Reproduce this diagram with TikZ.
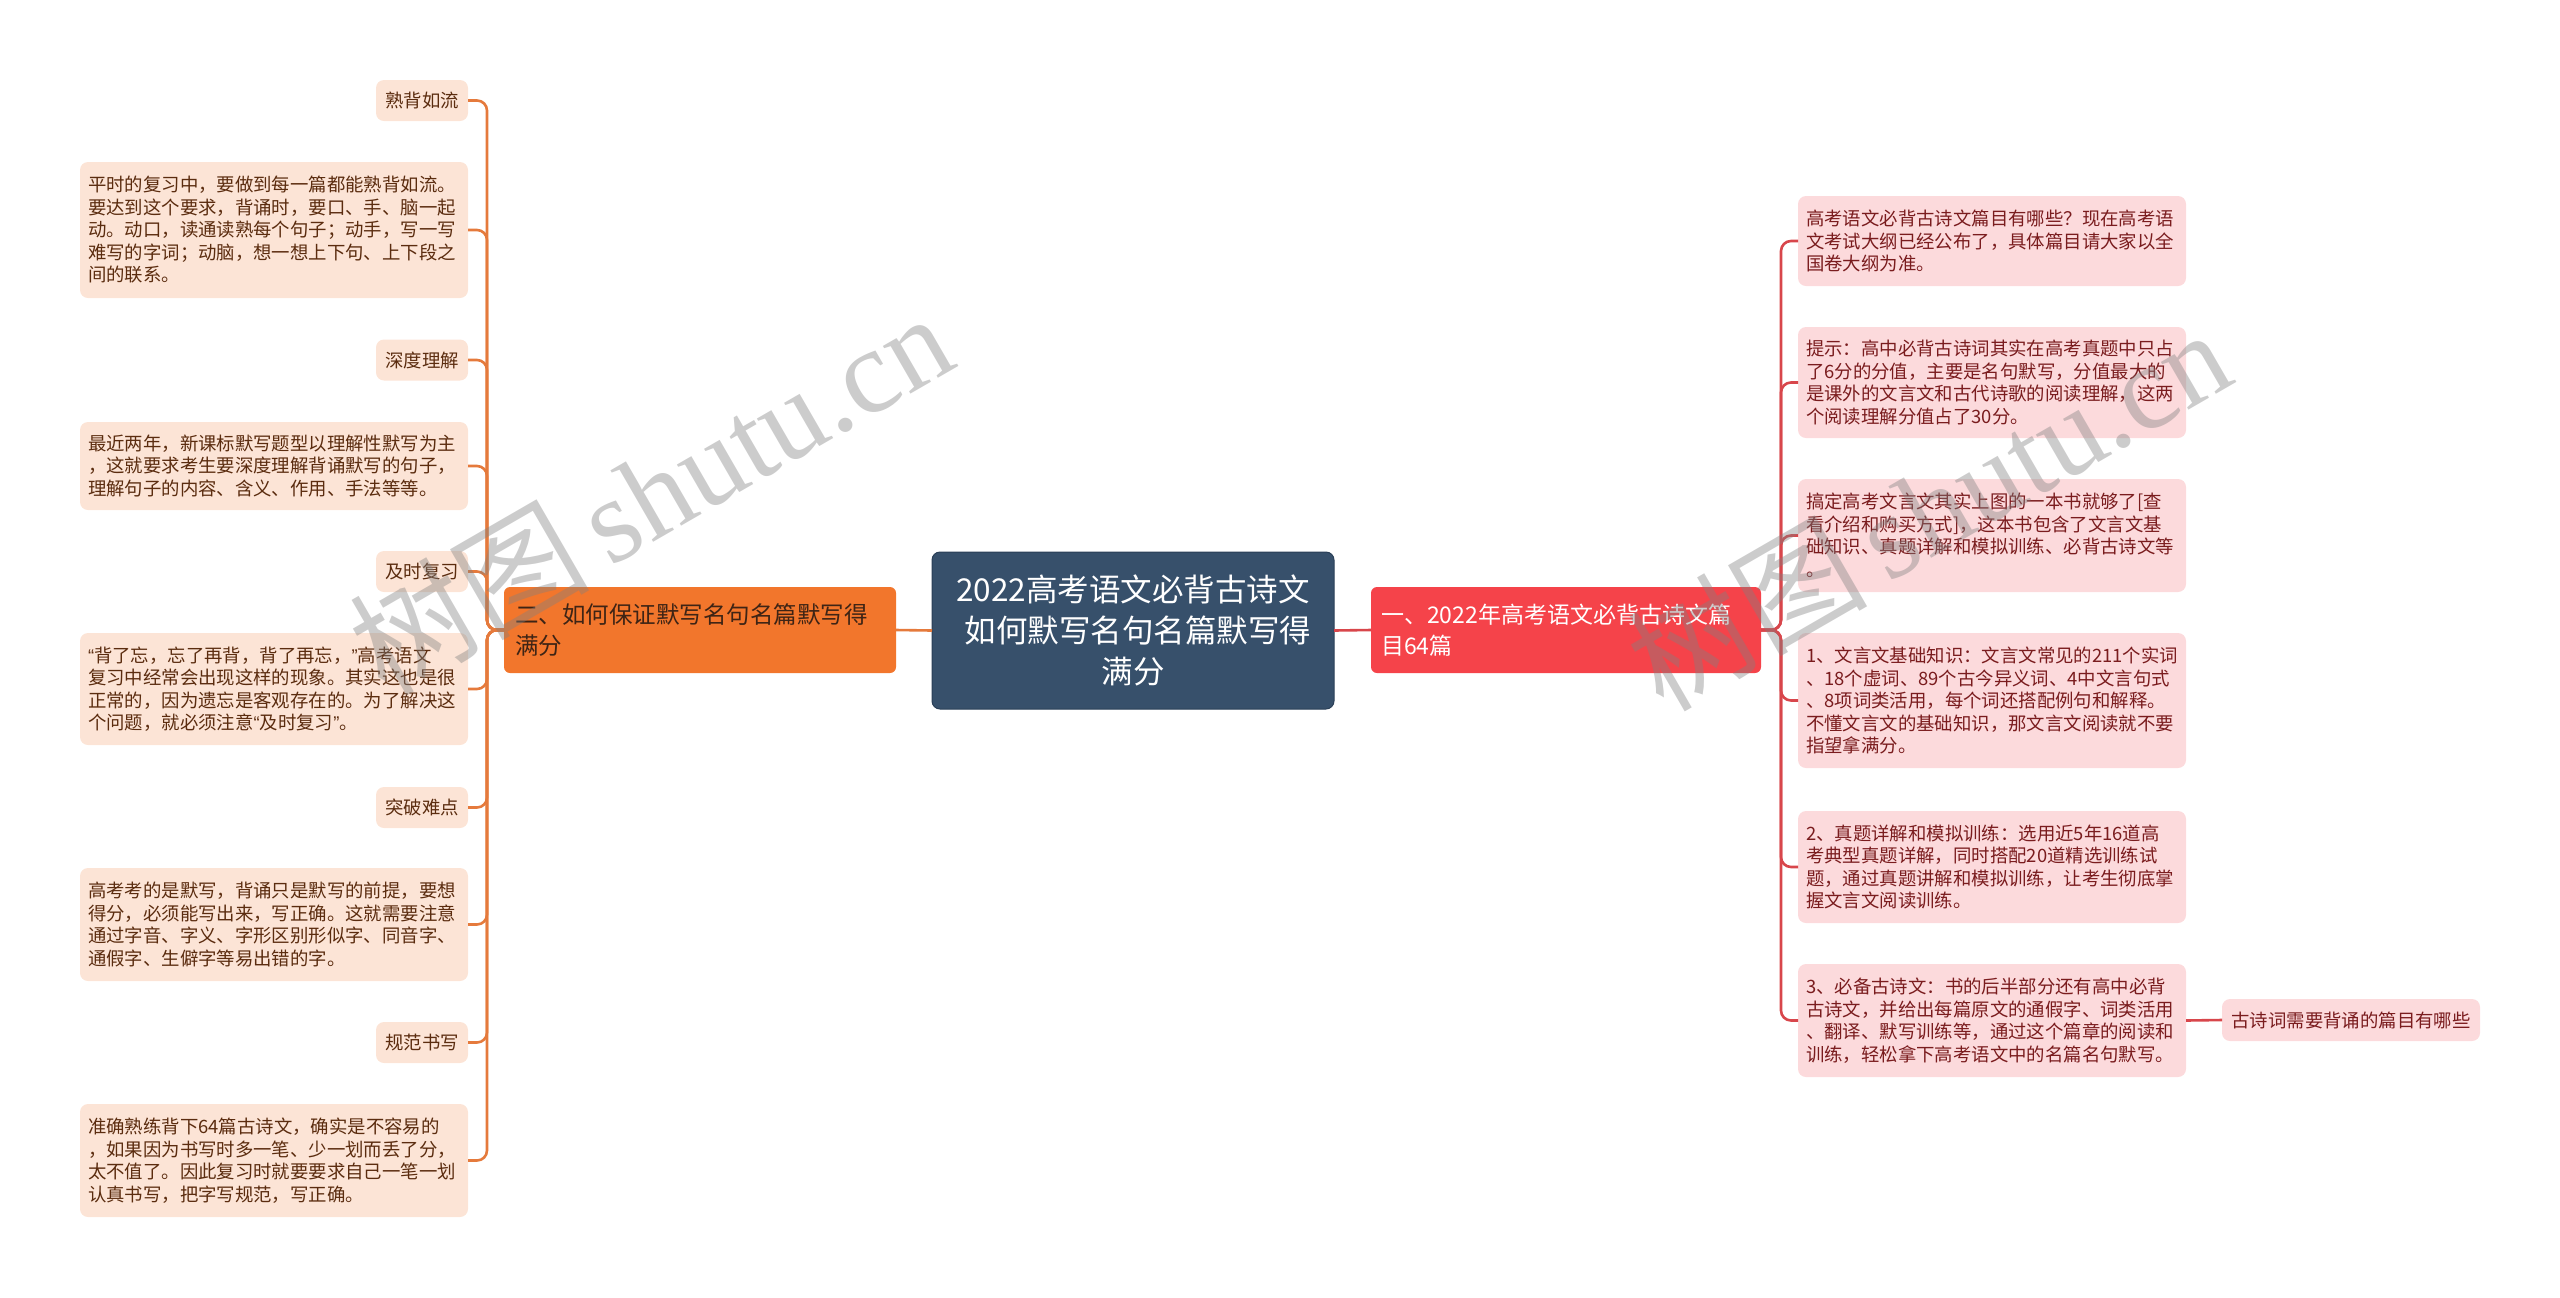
\documentclass[tikz,border=0pt]{standalone}
\usepackage{fontspec}
\setmainfont{Noto Sans CJK SC}
\newfontfamily\wmserif{Liberation Serif}
\newfontfamily\latq{Liberation Sans}
\newcommand{\lqq}{{\latq “}}
\newcommand{\rqq}{{\latq ”}}
\definecolor{cfill}{HTML}{37506B}
\definecolor{cdraw}{HTML}{2A3F57}
\definecolor{lmain}{HTML}{F2762C}
\definecolor{lmaintext}{HTML}{3E2415}
\definecolor{rmain}{HTML}{F5434A}
\definecolor{lfill}{HTML}{FCE4D6}
\definecolor{ltext}{HTML}{5B2C0F}
\definecolor{rfill}{HTML}{FCDADC}
\definecolor{rtext}{HTML}{7A1C1E}
\definecolor{lline}{HTML}{E57A3C}
\definecolor{rline}{HTML}{D8464B}
\begin{document}
\begin{tikzpicture}[x=0.5pt,y=-0.5pt,
  box/.style={rounded corners=4pt, inner sep=0pt, outer sep=0pt},
  leafL/.style={box, fill=lfill, text=ltext, font=\fontsize{9.2}{11.25}\selectfont},
  leafR/.style={box, fill=rfill, text=rtext, font=\fontsize{9.2}{11.25}\selectfont},
  paraL/.style={leafL, text width=186pt, align=left, minimum width=194pt},
  paraR/.style={leafR, text width=186pt, align=left, minimum width=194pt},
  shortL/.style={leafL, minimum width=46pt, minimum height=20.5pt},
  connL/.style={draw=lline, line width=1.3pt, rounded corners=5pt},
  connR/.style={draw=rline, line width=1.3pt, rounded corners=5pt},
  wmark/.style={rotate=30, text=black!50, opacity=0.4, font=\fontsize{60}{60}\selectfont}
]
\useasboundingbox (0,0) rectangle (2560,1297);

% central node
\node[box, rounded corners=4pt, fill=cfill, draw=cdraw, line width=0.5pt, text=white,
      minimum width=201pt, minimum height=78.5pt, align=center,
      font=\fontsize{15.75}{20.5}\selectfont] (C) at (1133,630.5)
  {2022高考语文必背古诗文\\\hspace*{5pt}如何默写名句名篇默写得\\满分};

% main branches
\node[box, rounded corners=3pt, fill=lmain, text=lmaintext, minimum width=196pt, minimum height=43pt,
      text width=185pt, align=left, font=\fontsize{11.75}{15.5}\selectfont] (LM) at (700,630)
  {二、如何保证默写名句名篇默写得\\满分};
\node[box, rounded corners=3pt, fill=rmain, text=white, minimum width=195pt, minimum height=43pt,
      text width=185pt, align=left, font=\fontsize{11.5}{15.5}\selectfont] (RM) at (1566,630)
  {一、2022年高考语文必背古诗文篇\\目64篇};

% left leaves
\node[shortL] (l1) at (422,100.5) {熟背如流};
\node[paraL, minimum height=68pt] (l2) at (274,230)
  {平时的复习中，要做到每一篇都能熟背如流。\\要达到这个要求，背诵时，要口、手、脑一起\\动。动口，读通读熟每个句子；动手，写一写\\难写的字词；动脑，想一想上下句、上下段之\\间的联系。};
\node[shortL] (l3) at (422,360) {深度理解};
\node[paraL, minimum height=44pt] (l4) at (274,466)
  {最近两年，新课标默写题型以理解性默写为主\\，这就要求考生要深度理解背诵默写的句子，\\理解句子的内容、含义、作用、手法等等。};
\node[shortL] (l5) at (422,571.5) {及时复习};
\node[paraL, minimum height=56pt] (l6) at (274,689)
  {\lqq 背了忘，忘了再背，背了再忘，\rqq 高考语文\\复习中经常会出现这样的现象。其实这也是很\\正常的，因为遗忘是客观存在的。为了解决这\\个问题，就必须注意\lqq 及时复习\rqq 。};
\node[shortL] (l7) at (422,807.5) {突破难点};
\node[paraL, minimum height=56.5pt] (l8) at (274,924.5)
  {高考考的是默写，背诵只是默写的前提，要想\\得分，必须能写出来，写正确。这就需要注意\\通过字音、字义、字形区别形似字、同音字、\\通假字、生僻字等易出错的字。};
\node[shortL] (l9) at (422,1042.5) {规范书写};
\node[paraL, minimum height=56.5pt] (l10) at (274,1160.5)
  {准确熟练背下64篇古诗文，确实是不容易的\\，如果因为书写时多一笔、少一划而丢了分，\\太不值了。因此复习时就要要求自己一笔一划\\认真书写，把字写规范，写正确。};

% right leaves
\node[paraR, minimum height=45pt] (r1) at (1992,241)
  {高考语文必背古诗文篇目有哪些？现在高考语\\文考试大纲已经公布了，具体篇目请大家以全\\国卷大纲为准。};
\node[paraR, minimum height=55.5pt] (r2) at (1992,382.5)
  {提示：高中必背古诗词其实在高考真题中只占\\了6分的分值，主要是名句默写，分值最大的\\是课外的文言文和古代诗歌的阅读理解，这两\\个阅读理解分值占了30分。};
\node[paraR, minimum height=56.5pt] (r3) at (1992,535.5)
  {搞定高考文言文其实上图的一本书就够了[查\\看介绍和购买方式]，这本书包含了文言文基\\础知识、真题详解和模拟训练、必背古诗文等\\。};
\node[paraR, minimum height=67.5pt] (r4) at (1992,700.5)
  {1、文言文基础知识：文言文常见的211个实词\\、18个虚词、89个古今异义词、4中文言句式\\、8项词类活用，每个词还搭配例句和解释。\\不懂文言文的基础知识，那文言文阅读就不要\\指望拿满分。};
\node[paraR, minimum height=56pt] (r5) at (1992,867)
  {2、真题详解和模拟训练：选用近5年16道高\\考典型真题详解，同时搭配20道精选训练试\\题，通过真题讲解和模拟训练，让考生彻底掌\\握文言文阅读训练。};
\node[paraR, minimum height=56.5pt] (r6) at (1992,1020.5)
  {3、必备古诗文：书的后半部分还有高中必背\\古诗文，并给出每篇原文的通假字、词类活用\\、翻译、默写训练等，通过这个篇章的阅读和\\训练，轻松拿下高考语文中的名篇名句默写。};
\node[leafR, minimum width=129pt, minimum height=21pt] (rx) at (2351,1020) {古诗词需要背诵的篇目有哪些};

% connectors
\draw[draw=lline, line width=1.3pt] (C.west) -- (LM.east);
\draw[draw=rline, line width=1.3pt] (C.east) -- (RM.west);
\coordinate (LS) at (487,630);
\coordinate (RS) at (1781,630);
\foreach \n in {l1,l2,l3,l4,l5,l6,l7,l8,l9,l10}
  \draw[connL] (LM.west) -- (LS) |- (\n.east);
\foreach \n in {r1,r2,r3,r4,r5,r6}
  \draw[connR] (RM.east) -- (RS) |- (\n.west);
\draw[draw=rline, line width=1.3pt] (r6.east) -- (rx.west);

% watermarks
\node[wmark] (wm1) at (650,492) {树图\,{\wmserif shutu.cn}};
\node[wmark] (wm2) at (1928,508) {树图\,{\wmserif shutu.cn}};
\end{tikzpicture}
\end{document}
